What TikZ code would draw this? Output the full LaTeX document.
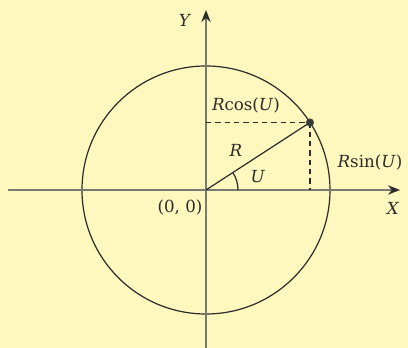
\documentclass[tikz,border=0pt]{standalone}
\usepackage{fontspec}
\setmainfont{DejaVu Serif}
\usepackage{xcolor}
\usepackage{tikz}
\usetikzlibrary{arrows.meta,positioning,calc}
\definecolor{cPaper}{HTML}{FFF8BE}
\definecolor{cInk}{HTML}{2B2B2B}
\definecolor{cAxis}{HTML}{7A7A72}
\definecolor{cDot}{HTML}{3A3A36}
\tikzset{
  axisln/.style={line width=1.4pt,color=cAxis,-{Stealth[length=9pt,width=7pt,color=cInk]}},
  circln/.style={line width=0.9pt,color=cInk},
  dashln/.style={line width=0.9pt,color=cInk,dash pattern=on 4pt off 3pt},
  lbl/.style={font=\fontsize{12.5}{15}\selectfont,text=cInk,inner sep=1pt},
}

\begin{document}
\begin{tikzpicture}[x=0.75pt,y=0.75pt]
  \fill[cPaper] (-206,-158) rectangle (202,190);
  \useasboundingbox (-206,-158) rectangle (202,190);
  \coordinate (O) at (0,0);
  \coordinate (xl) at (-198,0);
  \coordinate (xr) at (194,0);
  \coordinate (yb) at (0,-158);
  \coordinate (yt) at (0,180);
  % circle and axes
  \draw[circln] (O) circle (124);
  \draw[axisln] (xl) -- (xr);
  \draw[axisln] (yb) -- (yt);
  % point on the circle
  \coordinate (P) at (33:124);
  \coordinate (Px) at (P |- O);
  \coordinate (Py) at (P -| O);
  \draw[dashln] (Py) -- (P);
  \draw[dashln] (P) -- (Px);
  \draw[circln] (O) -- (P);
  \draw[circln] (32,0) arc (0:33:32);
  \fill[cDot] (P) circle (4);
  % labels
  \node[lbl] (lY) at (-21,170) {\textit{Y}};
  \node[lbl] (lX) at (187,-18) {\textit{X}};
  \node[lbl] (lO) at (-26,-17) {(0, 0)};
  \node[lbl] (lR) at (30,40) {\textit{R}};
  \node[lbl] (lU) at (52,13) {\textit{U}};
  \node[lbl] (lcos) at (40,85) {\textit{R}cos(\textit{U})};
  \node[lbl] (lsin) at (164,28) {\textit{R}sin(\textit{U})};
\end{tikzpicture}
\end{document}
